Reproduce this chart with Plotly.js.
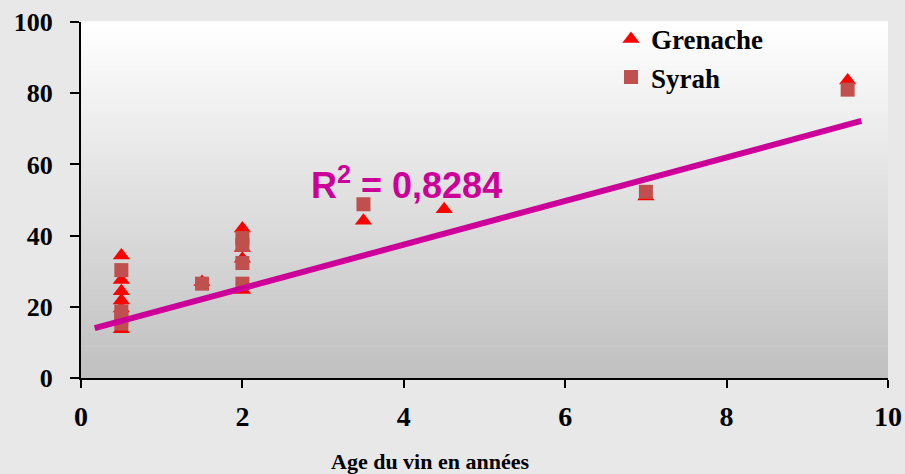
<!DOCTYPE html>
<html>
<head>
<meta charset="utf-8">
<script src="https://cdn.plot.ly/plotly-3.0.1.min.js"></script>
<style>
html,body{margin:0;padding:0;background:#e8e8e8;}
#chart{width:905px;height:474px;}
</style>
</head>
<body>
<div id="chart"></div>
<script>
// Data
const grenacheX = [0.5, 0.5, 0.5, 0.5, 0.5, 0.5, 1.5, 2, 2, 2, 2, 3.5, 4.5, 7, 9.5];
const grenacheY = [34.4, 27.5, 24.4, 21.8, 19.5, 13.7, 27, 42, 36.5, 33.5, 24.7, 44.2, 47.4, 51, 83.6];
const syrahX = [0.5, 0.5, 0.5, 0.5, 1.5, 2, 2, 2, 2, 3.5, 7, 9.5];
const syrahY = [30.3, 18.7, 17, 15.3, 26.5, 39.3, 37.4, 32.3, 26.5, 48.8, 52.3, 81];
const trendX = [0.17, 9.67];
const trendY = [14.0, 72.2];
const xTicks = [0, 2, 4, 6, 8, 10];
const yTicks = [0, 20, 40, 60, 80, 100];
const seriesNames = ["Grenache", "Syrah"];
const r2Label = "R<sup>2</sup> = 0,8284";
const xTitle = "Age du vin en années";

// vertical gradient for the plot area (white -> grey)
const bands = [];
const N = 80;
for (let i = 0; i < N; i++) {
  const t = i / (N - 1);           // 0 bottom, 1 top
  const v = Math.round(192 + (255 - 192) * t);
  bands.push({
    type: 'rect', xref: 'paper', yref: 'paper', layer: 'below',
    x0: 0, x1: 1, y0: i / N, y1: (i + 1) / N + 0.002,
    fillcolor: `rgb(${v},${v},${v})`, line: {width: 0}
  });
}

const serif = "'Liberation Serif', 'Times New Roman', serif";
const plotW = 905 - 81 - 17, plotH = 474 - 22 - 96;

const traces = [
  {x: grenacheX, y: grenacheY, name: seriesNames[0], type: 'scatter', mode: 'markers',
   marker: {symbol: 'triangle-up', size: 15, color: '#ff0000'}},
  {x: syrahX, y: syrahY, name: seriesNames[1], type: 'scatter', mode: 'markers',
   marker: {symbol: 'square', size: 14, color: '#c0504d'}},
  {x: trendX, y: trendY, type: 'scatter', mode: 'lines', showlegend: false,
   line: {color: '#cc0099', width: 6}, hoverinfo: 'skip'}
];

const layout = {
  width: 905, height: 474,
  paper_bgcolor: '#e8e8e8', plot_bgcolor: '#ffffff',
  margin: {l: 81, r: 17, t: 22, b: 96, pad: 0},
  showlegend: true,
  legend: {x: (611 - 81) / plotW, y: 1.02, xanchor: 'left', yanchor: 'top', bgcolor: 'rgba(0,0,0,0)',
           font: {family: serif, size: 27, color: '#000', weight: 'bold'}, tracegroupgap: 0},
  xaxis: {range: [0, 10], tickvals: xTicks, ticktext: xTicks.map(String),
          showline: true, linecolor: '#000', linewidth: 2, ticks: 'outside', ticklen: 8,
          tickwidth: 2, tickcolor: '#000', showgrid: false, zeroline: false,
          ticklabelstandoff: 4,
          tickfont: {family: serif, size: 28, color: '#000', weight: 'bold'}},
  yaxis: {range: [0, 100], tickvals: yTicks, ticktext: yTicks.map(String),
          showline: true, linecolor: '#000', linewidth: 2, ticks: 'outside', ticklen: 9,
          tickwidth: 2, tickcolor: '#000', showgrid: false, zeroline: false,
          ticklabelstandoff: 12,
          tickfont: {family: serif, size: 26, color: '#000', weight: 'bold'}},
  shapes: bands,
  annotations: [
    {text: r2Label, x: 4.03, y: 54.7, xref: 'x', yref: 'y', showarrow: false,
     font: {family: "'Liberation Sans', Arial, sans-serif", size: 36, color: '#cc0099', weight: 'bold'}},
    {text: '<b>' + xTitle + '</b>', x: (430 - 81) / plotW, y: (378 - 461) / plotH,
     xref: 'paper', yref: 'paper', xanchor: 'center', yanchor: 'middle', showarrow: false,
     font: {family: serif, size: 22, color: '#000'}}
  ]
};
Plotly.newPlot('chart', traces, layout, {displayModeBar: false, staticPlot: true});
</script>
</body>
</html>
